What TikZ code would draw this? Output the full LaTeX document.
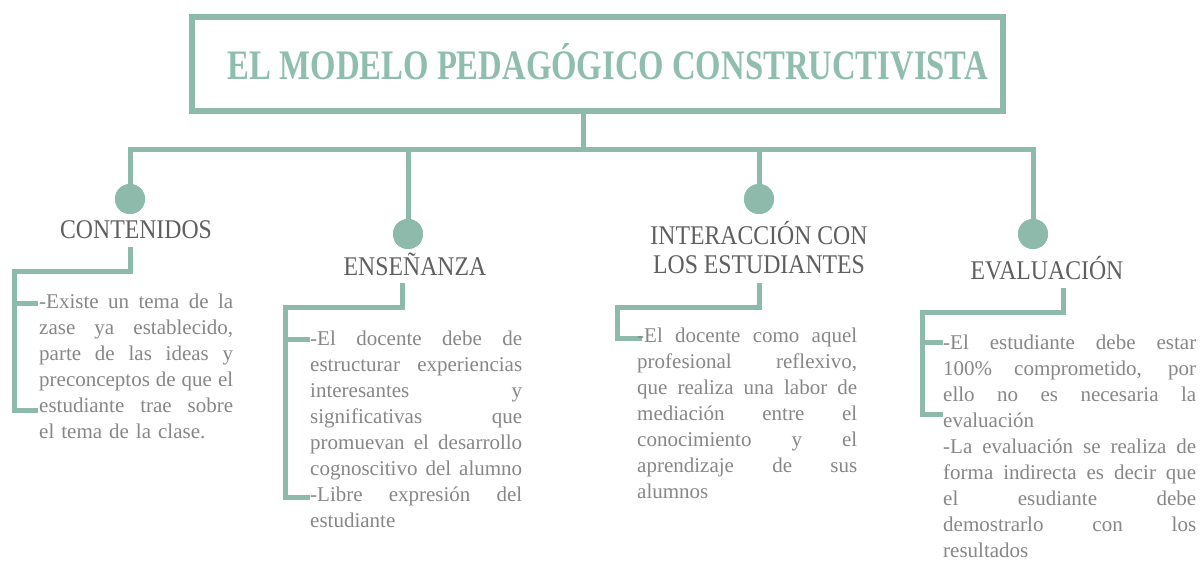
\documentclass[tikz,border=0pt]{standalone}
\usepackage{fontspec}
\usepackage{graphicx}
\setmainfont{Liberation Serif}
\newfontfamily\headfont[FakeStretch=0.88]{Liberation Serif}
\definecolor{teal1}{RGB}{141,186,171}
\definecolor{titlecol}{RGB}{143,190,174}
\definecolor{headgray}{RGB}{95,95,95}
\definecolor{bodygray}{RGB}{135,135,135}
\newcommand\jl[1]{\hbox to \hsize{\vrule height 19pt depth 7pt width 0pt\spaceskip=.25em plus 1fil\relax #1}}
\newcommand\lastl[1]{\hbox{\vrule height 19pt depth 7pt width 0pt#1}}
\begin{document}
\begin{tikzpicture}[x=1pt,y=-1pt,
  conn/.style={draw=teal1, line width=5pt, line join=miter},
  dot/.style={circle, fill=teal1, minimum size=30pt, inner sep=0pt},
  head/.style={text=headgray, font=\headfont\fontsize{27}{28}\selectfont, inner sep=0pt, anchor=base, align=center},
  body/.style={text=bodygray, font=\fontsize{21}{26}\selectfont, inner sep=0pt, anchor=north west}]
\useasboundingbox (0,0) rectangle (1201,561);
\fill[white] (0,0) rectangle (1201,561);

% title
\node[draw=teal1, line width=6pt, minimum width=811pt, minimum height=94pt, inner sep=0pt] (title) at (597.5,64) {};
\node[text=titlecol, inner sep=0pt, anchor=base] (titletext) at (608,80)
  {\resizebox{760pt}{\height}{\bfseries\fontsize{42}{42}\selectfont EL MODELO PEDAGÓGICO CONSTRUCTIVISTA}};

% bus
\coordinate (bus) at (583,150);
\coordinate (b1) at (130,150);
\coordinate (b2) at (408,150);
\coordinate (b3) at (759,150);
\coordinate (b4) at (1033,150);
\node[dot] (d1) at (130,199) {};
\node[dot] (d2) at (408,234) {};
\node[dot] (d3) at (759,199) {};
\node[dot] (d4) at (1033,234) {};
\draw[conn] (title.south -| bus) -- (bus);
\draw[conn] (d1.center) -- (b1) -- (b4) -- (d4.center);
\draw[conn] (b2) -- (d2.center);
\draw[conn] (b3) -- (d3.center);
\node[dot] at (d1) {};
\node[dot] at (d2) {};
\node[dot] at (d3) {};
\node[dot] at (d4) {};

% headings
\node[head] (h1) at (136,239) {CONTENIDOS};
\node[head] (h2) at (415,275) {ENSEÑANZA};
\node[head] (h3) at (759,245) {INTERACCIÓN CON};
\node[head] (h3b) at (759,273) {LOS ESTUDIANTES};
\node[head] (h4) at (1047,279) {EVALUACIÓN};

% bracket 1
\coordinate (k1a) at (130,247);
\coordinate (k1b) at (130,271);
\coordinate (k1c) at (14,271);
\coordinate (k1d) at (14,410);
\coordinate (k1e) at (38,410);
\coordinate (k1f) at (14,303);
\coordinate (k1g) at (38,303);
\draw[conn] (k1a) -- (k1b) -- (k1c) -- (k1d) -- (k1e);
\draw[conn] (k1f) -- (k1g);

% bracket 2
\coordinate (k2a) at (402,283);
\coordinate (k2b) at (402,307);
\coordinate (k2c) at (285,307);
\coordinate (k2d) at (285,497);
\coordinate (k2e) at (310,497);
\coordinate (k2f) at (285,339);
\coordinate (k2g) at (310,339);
\draw[conn] (k2a) -- (k2b) -- (k2c) -- (k2d) -- (k2e);
\draw[conn] (k2f) -- (k2g);

% bracket 3
\coordinate (k3a) at (759,283);
\coordinate (k3b) at (759,307);
\coordinate (k3c) at (617,307);
\coordinate (k3d) at (617,338);
\coordinate (k3e) at (642,338);
\draw[conn] (k3a) -- (k3b) -- (k3c) -- (k3d) -- (k3e);

% bracket 4
\coordinate (k4a) at (1063,288);
\coordinate (k4b) at (1063,312);
\coordinate (k4c) at (922,312);
\coordinate (k4d) at (922,414);
\coordinate (k4e) at (943,414);
\coordinate (k4f) at (922,342);
\coordinate (k4g) at (943,342);
\draw[conn] (k4a) -- (k4b) -- (k4c) -- (k4d) -- (k4e);
\draw[conn] (k4f) -- (k4g);

% body texts
\node[body, text width=194pt] (t1) at (39,289) {%
\jl{-Existe un tema de la}
\jl{zase ya establecido,}
\jl{parte de las ideas y}
\jl{preconceptos de que el}
\jl{estudiante trae sobre}
\lastl{el tema de la clase.}};

\node[body, text width=212pt] (t2) at (310,326) {%
\jl{-El docente debe de}
\jl{estructurar experiencias}
\jl{interesantes y}
\jl{significativas que}
\jl{promuevan el desarrollo}
\jl{cognoscitivo del alumno}
\jl{-Libre expresión del}
\lastl{estudiante}};

\node[body, text width=220pt] (t3) at (637,323) {%
\jl{-El docente como aquel}
\jl{profesional reflexivo,}
\jl{que realiza una labor de}
\jl{mediación entre el}
\jl{conocimiento y el}
\jl{aprendizaje de sus}
\lastl{alumnos}};

\node[body, text width=253pt] (t4) at (943,330) {%
\jl{-El estudiante debe estar}
\jl{100\% comprometido, por}
\jl{ello no es necesaria la}
\lastl{evaluación}
\jl{-La evaluación se realiza de}
\jl{forma indirecta es decir que}
\jl{el esudiante debe}
\jl{demostrarlo con los}
\lastl{resultados}};
\end{tikzpicture}
\end{document}
